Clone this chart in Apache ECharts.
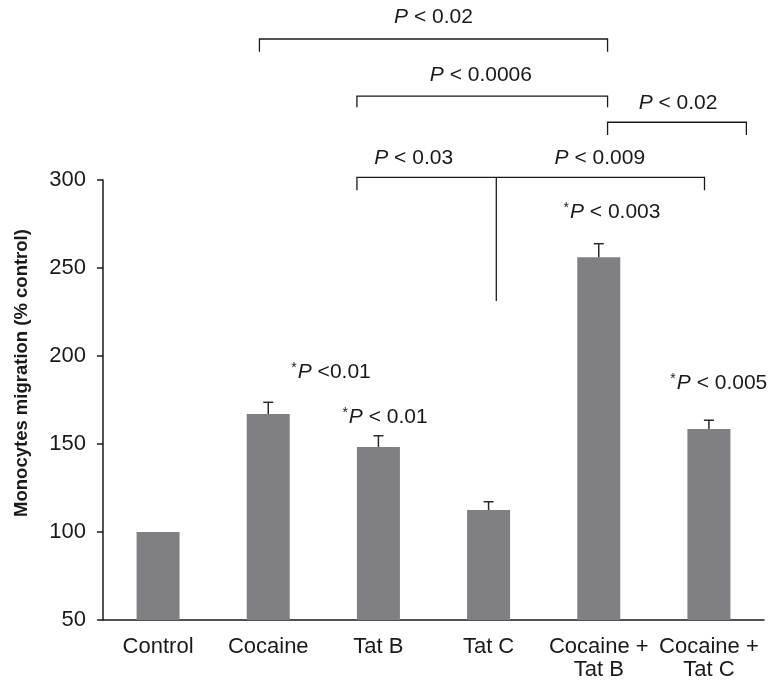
<!DOCTYPE html>
<html><head><meta charset="utf-8">
<script src="https://cdn.jsdelivr.net/npm/echarts@6.0.0/dist/echarts.min.js"></script>
<style>html,body{margin:0;padding:0;background:#fff}#c{width:772px;height:681px}</style>
</head><body><div id="c"></div>
<script>
const categories = ['Control', 'Cocaine', 'Tat B', 'Tat C', 'Cocaine +\nTat B', 'Cocaine +\nTat C'];
const values = [100, 167, 148.3, 112.5, 256.1, 158.5];
const errors = [0, 6.7, 6.4, 4.7, 7.7, 5.0];
const yTicks = [50, 100, 150, 200, 250, 300];
// brackets: [xStart (category units), xEnd, yLine (value units), yTickEnd]
const brackets = [
  [0.92, 4.08, 380.1, 372.9],
  [1.805, 4.08, 347.7, 341.3],
  [4.08, 5.34, 332.8, 325.6],
  [1.805, 4.96, 301.5, 294.2]
];
const stem = [3.07, 301.5, 231.2];
const pLabels = [
  ['P < 0.02', 2.5, 392.6],
  ['P < 0.0006', 2.93, 359.7],
  ['P < 0.02', 4.72, 343.8],
  ['P < 0.03', 2.32, 312.5],
  ['P < 0.009', 4.01, 312.5]
];
const starLabels = [
  ['<0.01', 1.57, 190.9],
  ['< 0.01', 2.06, 165.5],
  ['< 0.003', 4.12, 281.8],
  ['< 0.005', 5.09, 184.7]
];

const FONT = 'Liberation Sans, Arial, Helvetica, sans-serif';
const chart = echarts.init(document.getElementById('c'), null, {renderer: 'canvas'});
const axisColor = '#1a1a1a';
const option = {
  animation: false,
  backgroundColor: '#fff',
  grid: {left: 103, right: 8, top: 180, bottom: 61, containLabel: false, outerBoundsMode: 'none'},
  xAxis: {
    type: 'category', data: categories,
    axisLine: {lineStyle: {color: axisColor, width: 1.5}},
    axisTick: {length: 7, lineStyle: {color: axisColor, width: 1.5}},
    axisLabel: {color: '#1a1a1a', fontSize: 22, fontFamily: FONT, margin: 15, lineHeight: 23, interval: 0, hideOverlap: false}
  },
  yAxis: {
    type: 'value', min: yTicks[0], max: yTicks[yTicks.length - 1], interval: 50,
    name: 'Monocytes migration (% control)', nameLocation: 'middle', nameGap: 72,
    nameTextStyle: {fontSize: 18.5, fontWeight: 'bold', fontFamily: FONT, color: '#1a1a1a', padding: [0, 0, 0, 54]},
    splitLine: {show: false},
    axisLine: {show: true, lineStyle: {color: axisColor, width: 1.5}},
    axisTick: {show: true, length: 6, lineStyle: {color: axisColor, width: 1.5}},
    axisLabel: {color: '#1a1a1a', fontSize: 22, fontFamily: FONT, margin: 17}
  },
  series: [
    {
      type: 'bar', data: values, barWidth: 43,
      itemStyle: {color: '#808084'}
    },
    {
      type: 'custom',
      data: values.map((v, i) => [i, v, v + errors[i]]),
      renderItem: function (params, api) {
        const i = api.value(0);
        if (api.value(2) <= api.value(1)) return null;
        const p0 = api.coord([i, api.value(1)]);
        const p1 = api.coord([i, api.value(2)]);
        const style = {stroke: '#2a2a2a', lineWidth: 1.5, fill: null};
        return {type: 'group', children: [
          {type: 'line', shape: {x1: p0[0], y1: p0[1], x2: p1[0], y2: p1[1]}, style: style},
          {type: 'line', shape: {x1: p1[0] - 5, y1: p1[1], x2: p1[0] + 5, y2: p1[1]}, style: style}
        ]};
      },
      z: 3
    }
  ]
};
chart.setOption(option);

function toPx(xf, y) {
  const a = chart.convertToPixel({xAxisIndex: 0, yAxisIndex: 0}, [0, y]);
  const b = chart.convertToPixel({xAxisIndex: 0, yAxisIndex: 0}, [1, y]);
  return [a[0] + xf * (b[0] - a[0]), a[1]];
}
const lineStyle = {stroke: '#1a1a1a', lineWidth: 1.3, fill: null};
const g = [];
brackets.forEach(b => {
  const l = toPx(b[0], b[2]), r = toPx(b[1], b[2]);
  const lt = toPx(b[0], b[3]), rt = toPx(b[1], b[3]);
  g.push({type: 'polyline', shape: {points: [[lt[0], lt[1]], [l[0], l[1]], [r[0], r[1]], [rt[0], rt[1]]]}, style: lineStyle});
});
{
  const s0 = toPx(stem[0], stem[1]), s1 = toPx(stem[0], stem[2]);
  g.push({type: 'line', shape: {x1: s0[0], y1: s0[1], x2: s1[0], y2: s1[1]}, style: lineStyle});
}
const rich = {
  i: {fontStyle: 'italic', fontSize: 21, fontFamily: FONT, fill: '#1a1a1a', color: '#1a1a1a'},
  n: {fontSize: 21, fontFamily: FONT, color: '#1a1a1a', fill: '#1a1a1a'},
  s: {fontSize: 14, fontFamily: FONT, color: '#1a1a1a', fill: '#1a1a1a', verticalAlign: 'top', padding: [0, 1, 8, 0]}
};
pLabels.forEach(p => {
  const c = toPx(p[1], p[2]);
  g.push({type: 'text', x: c[0], y: c[1], style: {
    text: '{i|P}{n|' + p[0].slice(1) + '}', rich: rich, align: 'center', verticalAlign: 'middle'}});
});
starLabels.forEach(p => {
  const c = toPx(p[1], p[2]);
  g.push({type: 'text', x: c[0], y: c[1], style: {
    text: '{s|*}{i|P}{n| ' + p[0] + '}', rich: rich, align: 'center', verticalAlign: 'middle'}});
});
chart.setOption({graphic: g});
</script>
</body></html>
